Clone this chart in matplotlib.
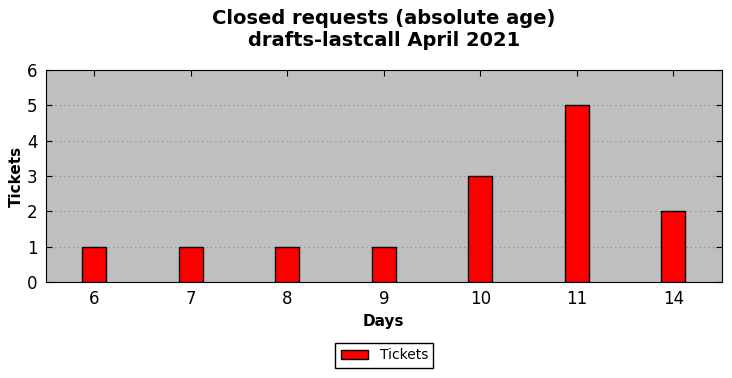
import matplotlib
matplotlib.use('Agg')
import matplotlib.pyplot as plt
import numpy as np

# Data
days = ['6', '7', '8', '9', '10', '11', '14']
tickets = [1, 1, 1, 1, 3, 5, 2]

fig = plt.figure(figsize=(7.32, 3.78), dpi=100)
ax = fig.add_axes([0.0628, 0.254, 0.923, 0.561])
ax.set_facecolor('#bfbfbf')

x = np.arange(len(days))
ax.bar(x, tickets, width=0.25, color='#ff0000', edgecolor='black',
       linewidth=1, label='Tickets', zorder=3)

ax.set_xlim(-0.5, len(days) - 0.5)
ax.set_ylim(0, 6)
ax.set_xticks(x)
ax.set_xticklabels(days)
ax.set_yticks(range(7))
ax.tick_params(direction='in', labelsize=12, length=4, top=True, right=True, pad=6)
ax.yaxis.grid(True, linestyle=(0, (1, 3)), color='#888888', linewidth=0.8, zorder=0)
ax.set_axisbelow(True)

ax.set_xlabel('Days', fontsize=11, fontweight='bold', labelpad=4)
ax.set_ylabel('Tickets', fontsize=11, fontweight='bold', labelpad=2)
ax.set_title('Closed requests (absolute age)\ndrafts-lastcall April 2021',
             fontsize=14, fontweight='bold', pad=17)

fig.legend(loc='center', bbox_to_anchor=(0.525, 0.06), fontsize=10,
           fancybox=False, edgecolor='black', framealpha=1,
           handlelength=2, borderpad=0.4)

fig.savefig('out.png', dpi=100)
